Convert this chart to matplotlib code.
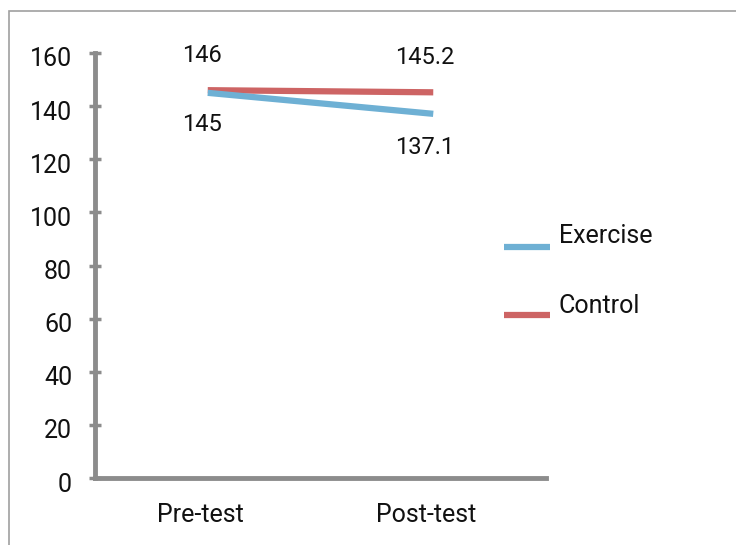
import matplotlib
matplotlib.use("Agg")
import matplotlib.pyplot as plt
from matplotlib.lines import Line2D
from matplotlib.patches import Rectangle
import matplotlib.transforms as mtransforms

categories = ["Pre-test", "Post-test"]
exercise = [145, 137.1]
control = [146, 145.2]
yticks = [0, 20, 40, 60, 80, 100, 120, 140, 160]
series_names = ["Exercise", "Control"]

W, H = 736, 545
fig = plt.figure(figsize=(W / 100, H / 100), dpi=100)
plt.rcParams['font.family'] = ['Roboto', 'DejaVu Sans']

# outer frame
fig.patches.append(Rectangle((9 / W, -0.1), 1.2, 1 - 11 / H + 0.1, transform=fig.transFigure,
                             fill=False, edgecolor="#a0a0a0", linewidth=1.2))

ax = fig.add_axes([95 / W, 1 - 478 / H, (546 - 95) / W, (478 - 53) / H])
blue = "#6EB0D4"
red = "#CD6464"
x = list(range(len(categories)))
ax.plot(x, control, color=red, linewidth=4.5, solid_capstyle="butt", zorder=3)
ax.plot(x, exercise, color=blue, linewidth=4.5, solid_capstyle="butt", zorder=4)

ax.set_xlim(-0.5, 1.5)
ax.set_ylim(0, 160)
ax.set_yticks(yticks)
ax.set_xticks(x)
ax.set_xticklabels(categories)

for s in ["top", "right"]:
    ax.spines[s].set_visible(False)
for s in ["left", "bottom"]:
    ax.spines[s].set_color("#8c8c8c")
    ax.spines[s].set_linewidth(3.5)
ax.tick_params(axis="y", direction="inout", length=9, width=2.5, color="#8c8c8c",
               labelsize=18, pad=12, labelcolor="#111111")
ax.tick_params(axis="x", length=0, labelsize=18, pad=18, labelcolor="#111111")
shift = mtransforms.ScaledTranslation(0, -4 / 100, fig.dpi_scale_trans)
for lab in ax.get_yticklabels():
    lab.set_transform(lab.get_transform() + shift)
xshift = mtransforms.ScaledTranslation(-7 / 100, 0, fig.dpi_scale_trans)
for lab in ax.get_xticklabels():
    lab.set_transform(lab.get_transform() + xshift)

fs = 17
ax.annotate(f"{control[0]:g}", (x[0], control[0]), xytext=(-4, 25), textcoords="offset points",
            ha="center", va="center", fontsize=fs, color="#111111")
ax.annotate(f"{exercise[0]:g}", (x[0], exercise[0]), xytext=(-4, -23), textcoords="offset points",
            ha="center", va="center", fontsize=fs, color="#111111")
ax.annotate(f"{control[1]:g}", (x[1], control[1]), xytext=(-6, 25), textcoords="offset points",
            ha="center", va="center", fontsize=fs, color="#111111")
ax.annotate(f"{exercise[1]:g}", (x[1], exercise[1]), xytext=(-6, -24), textcoords="offset points",
            ha="center", va="center", fontsize=fs, color="#111111")

# legend drawn manually
for name, col, ly, ty in [(series_names[0], blue, 247, 236), (series_names[1], red, 315, 306)]:
    fig.add_artist(Line2D([504 / W, 550 / W], [1 - ly / H, 1 - ly / H], transform=fig.transFigure,
                          color=col, linewidth=4.5, solid_capstyle="butt"))
    fig.text(559 / W, 1 - ty / H, name, fontsize=18, color="#111111", ha="left", va="center")

fig.savefig("out.png", dpi=100)
